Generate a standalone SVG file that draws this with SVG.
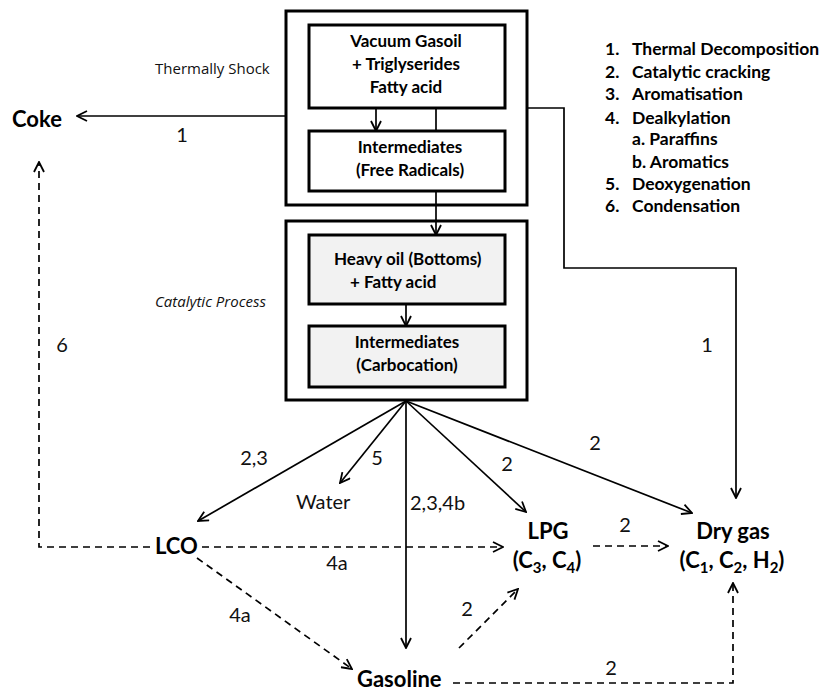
<svg xmlns="http://www.w3.org/2000/svg" width="822" height="693" viewBox="0 0 822 693">
<style>
.box{fill:#fff;stroke:#000;stroke-width:3}
.gbox{fill:#f2f2f2;stroke:#000;stroke-width:3}
.nl{font-family:Lato,"Liberation Sans",sans-serif;font-weight:700;font-size:17px;fill:#000}
.bn{font-family:Lato,"Liberation Sans",sans-serif;font-weight:700;font-size:22px;fill:#000}
.lg{font-family:Lato,"Liberation Sans",sans-serif;font-weight:700;font-size:17.5px;fill:#000}
.lab{font-family:Lato,"Liberation Sans",sans-serif;font-size:20px;fill:#111}
.hand{font-family:"Open Sans","Liberation Sans",sans-serif;font-size:15px;fill:#111}
.c{fill:none;stroke:#000;stroke-width:1.7}
.d{fill:none;stroke:#000;stroke-width:1.7;stroke-dasharray:7,5}
</style>
<defs>
<marker id="ah" viewBox="0 0 12 12" refX="11" refY="6" markerWidth="12" markerHeight="12" markerUnits="userSpaceOnUse" orient="auto">
<path d="M1,1 L11,6 L1,11" fill="none" stroke="#000" stroke-width="1.8"/>
</marker>
</defs>
<rect width="822" height="693" fill="#fff"/>

<g id="thermal">
<rect class="box" x="286" y="11" width="241" height="194"/>
<text class="hand" x="155" y="74">Thermally Shock</text>
</g>
<g id="catalytic">
<rect class="box" x="286" y="221" width="241" height="179"/>
<text class="hand" x="155" y="307" font-style="italic">Catalytic Process</text>
</g>
<g id="vgo">
<rect class="box" x="309" y="25" width="196" height="83"/>
<text class="nl" text-anchor="middle" x="406" y="47">Vacuum Gasoil</text>
<text class="nl" text-anchor="middle" x="406" y="70">+ Triglyserides</text>
<text class="nl" text-anchor="middle" x="406" y="93">Fatty acid</text>
</g>
<g id="freerad">
<rect class="box" x="309" y="131" width="196" height="60"/>
<text class="nl" text-anchor="middle" x="410" y="153">Intermediates</text>
<text class="nl" text-anchor="middle" x="410" y="176">(Free Radicals)</text>
</g>
<g id="heavy">
<rect class="gbox" x="309" y="235" width="196" height="69"/>
<text class="nl" x="334" y="265">Heavy oil (Bottoms)</text>
<text class="nl" x="350" y="288">+ Fatty acid</text>
</g>
<g id="carbo">
<rect class="gbox" x="309" y="326" width="196" height="61"/>
<text class="nl" text-anchor="middle" x="407" y="348">Intermediates</text>
<text class="nl" text-anchor="middle" x="407" y="371">(Carbocation)</text>
</g>
<g id="coke"><text class="bn" x="12" y="127" font-size="24">Coke</text></g>
<g id="lco"><text class="bn" x="155" y="554">LCO</text></g>
<g id="water"><text class="lab" x="296" y="509" font-size="18">Water</text></g>
<g id="gasoline"><text class="bn" x="357" y="687" font-size="23">Gasoline</text></g>
<g id="lpg">
<text class="bn" text-anchor="middle" x="548" y="539" font-size="23">LPG</text>
<text class="bn" text-anchor="middle" x="547" y="568" font-size="23">(C<tspan font-size="15" dy="5">3</tspan><tspan dy="-5">, C</tspan><tspan font-size="15" dy="5">4</tspan><tspan dy="-5">)</tspan></text>
</g>
<g id="drygas">
<text class="bn" text-anchor="middle" x="733" y="539" font-size="23">Dry gas</text>
<text class="bn" text-anchor="middle" x="732" y="568" font-size="23">(C<tspan font-size="15" dy="5">1</tspan><tspan dy="-5">, C</tspan><tspan font-size="15" dy="5">2</tspan><tspan dy="-5">, H</tspan><tspan font-size="15" dy="5">2</tspan><tspan dy="-5">)</tspan></text>
</g>
<g id="legend">
<text class="lg" x="605" y="55">1.</text><text class="lg" x="632" y="55">Thermal Decomposition</text>
<text class="lg" x="605" y="78">2.</text><text class="lg" x="632" y="78">Catalytic cracking</text>
<text class="lg" x="605" y="100">3.</text><text class="lg" x="632" y="100">Aromatisation</text>
<text class="lg" x="605" y="124">4.</text><text class="lg" x="632" y="124">Dealkylation</text>
<text class="lg" x="632" y="145">a. Paraffins</text>
<text class="lg" x="632" y="168">b. Aromatics</text>
<text class="lg" x="605" y="190">5.</text><text class="lg" x="632" y="190">Deoxygenation</text>
<text class="lg" x="605" y="212">6.</text><text class="lg" x="632" y="212">Condensation</text>
</g>

<g id="connectors">
<line class="c" x1="376" y1="108" x2="376" y2="131" marker-end="url(#ah)"/>
<line class="c" x1="436" y1="108" x2="436" y2="131"/>
<line class="c" x1="436" y1="191" x2="436" y2="235" marker-end="url(#ah)"/>
<line class="c" x1="406" y1="304" x2="406" y2="326" marker-end="url(#ah)"/>
<line class="c" x1="286" y1="116" x2="77" y2="116" marker-end="url(#ah)"/>
<polyline class="c" points="527,108 564,108 564,268 736,268 736,498" marker-end="url(#ah)"/>
<line class="c" x1="406" y1="401" x2="198" y2="521" marker-end="url(#ah)"/>
<line class="c" x1="406" y1="401" x2="340" y2="483" marker-end="url(#ah)"/>
<line class="c" x1="406" y1="401" x2="406" y2="648" marker-end="url(#ah)"/>
<line class="c" x1="406" y1="401" x2="526" y2="512" marker-end="url(#ah)"/>
<line class="c" x1="406" y1="401" x2="692" y2="513" marker-end="url(#ah)"/>
<polyline class="d" points="150,547 39,547 39,162" marker-end="url(#ah)"/>
<line class="d" x1="202" y1="547" x2="503" y2="547" marker-end="url(#ah)"/>
<line class="d" x1="593" y1="546" x2="668" y2="546" marker-end="url(#ah)"/>
<line class="d" x1="197" y1="558" x2="352" y2="669" marker-end="url(#ah)"/>
<line class="d" x1="459" y1="648" x2="518" y2="589" marker-end="url(#ah)"/>
<polyline class="d" points="453,683 733,683 733,583" marker-end="url(#ah)"/>
<text class="lab" x="182" y="142" text-anchor="middle">1</text>
<text class="lab" x="707" y="352" text-anchor="middle">1</text>
<text class="lab" x="62" y="352" text-anchor="middle">6</text>
<text class="lab" x="254" y="465" text-anchor="middle">2,3</text>
<text class="lab" x="377" y="465" text-anchor="middle">5</text>
<text class="lab" x="410" y="510">2,3,4b</text>
<text class="lab" x="507" y="471" text-anchor="middle">2</text>
<text class="lab" x="595" y="450" text-anchor="middle">2</text>
<text class="lab" x="625" y="532" text-anchor="middle">2</text>
<text class="lab" x="337" y="570" text-anchor="middle">4a</text>
<text class="lab" x="240" y="622" text-anchor="middle">4a</text>
<text class="lab" x="467" y="616" text-anchor="middle">2</text>
<text class="lab" x="611" y="675" text-anchor="middle">2</text>
</g>
</svg>
